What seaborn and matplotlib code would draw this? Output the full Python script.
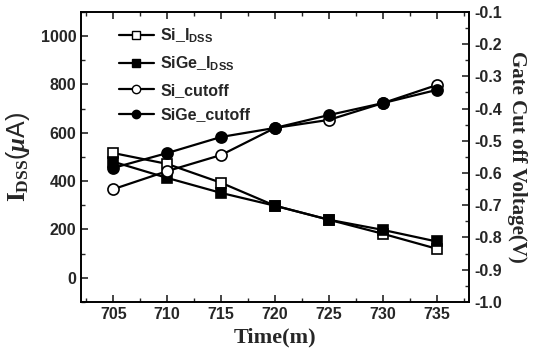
import matplotlib
matplotlib.use("Agg")
import matplotlib.pyplot as plt
import seaborn as sns
import pandas as pd
from matplotlib.ticker import MultipleLocator
from matplotlib.lines import Line2D

time = [705, 710, 715, 720, 725, 730, 735]
si_idss = [516, 471, 393, 298, 240, 182, 120]
sige_idss = [480, 413, 351, 298, 240, 198, 150]
si_cutoff = [-0.65, -0.594, -0.544, -0.46, -0.435, -0.383, -0.327]
sige_cutoff = [-0.584, -0.538, -0.488, -0.46, -0.42, -0.383, -0.342]

sns.set_style("ticks")
plt.rcParams['font.family'] = ['Liberation Sans', 'DejaVu Sans']
plt.rcParams['font.weight'] = 'bold'
plt.rcParams['mathtext.fontset'] = 'custom'
plt.rcParams['mathtext.rm'] = 'Liberation Serif:bold'
plt.rcParams['mathtext.it'] = 'Liberation Serif:italic:bold'
plt.rcParams['mathtext.sf'] = 'Liberation Sans:bold'
plt.rcParams['mathtext.bf'] = 'Liberation Serif:bold'

df = pd.DataFrame({'time': time, 'si_idss': si_idss, 'sige_idss': sige_idss,
                   'si_cutoff': si_cutoff, 'sige_cutoff': sige_cutoff})

fig = plt.figure(figsize=(5.33, 3.62), dpi=100)
ax = fig.add_axes([0.152, 0.166, 0.728, 0.801])
ax2 = ax.twinx()

lw = 1.6
ms = 7.5
sns.lineplot(data=df, x='time', y='si_idss', ax=ax, color='black', lw=lw,
             marker='s', markersize=ms, markerfacecolor='white', markeredgecolor='black', markeredgewidth=1.2)
sns.lineplot(data=df, x='time', y='sige_idss', ax=ax, color='black', lw=lw,
             marker='s', markersize=ms, markerfacecolor='black', markeredgecolor='black', markeredgewidth=1.2)
sns.lineplot(data=df, x='time', y='si_cutoff', ax=ax2, color='black', lw=lw,
             marker='o', markersize=ms+0.5, markerfacecolor='white', markeredgecolor='black', markeredgewidth=1.2)
sns.lineplot(data=df, x='time', y='sige_cutoff', ax=ax2, color='black', lw=lw,
             marker='o', markersize=ms+0.5, markerfacecolor='black', markeredgecolor='black', markeredgewidth=1.2)

ax.set_xlim(702, 738)
ax.set_ylim(-100, 1100)
ax2.set_ylim(-1.0, -0.1)

ax.xaxis.set_major_locator(MultipleLocator(5))
ax.xaxis.set_minor_locator(MultipleLocator(2.5))
ax.yaxis.set_major_locator(MultipleLocator(200))
ax.yaxis.set_minor_locator(MultipleLocator(100))
ax2.yaxis.set_minor_locator(MultipleLocator(0.05))
ax2.set_yticks([-1.0, -0.9, -0.8, -0.7, -0.6, -0.5, -0.4, -0.3, -0.2, -0.1])
ax2.set_yticklabels(['-1.0', '-0.9', '-0.8', '-0.7', '-0.6', '-0.5', '-0.4', '-0.3', '-0.2', '-0.1'])

ax.tick_params(axis='both', which='major', direction='in', length=5, width=1.2, labelsize=11.5, top=True)
ax.tick_params(axis='both', which='minor', direction='in', length=3, width=1.0, top=True)
ax.tick_params(axis='y', right=False, which='both')
ax2.tick_params(axis='y', which='major', direction='in', length=5, width=1.2, labelsize=11.5)
ax2.tick_params(axis='y', which='minor', direction='in', length=3, width=1.0)
for a in (ax, ax2):
    for s in a.spines.values():
        s.set_linewidth(1.2)
        s.set_visible(True)
        s.set_color('black')
    for lab in a.get_xticklabels() + a.get_yticklabels():
        lab.set_fontweight('bold')

ax.set_xlabel('Time(m)', family='Liberation Serif', fontweight='bold', fontsize=16, labelpad=4)
ax.set_ylabel(r'$\mathrm{I_{DSS}}$($\mathit{\mu}$A)', fontsize=18, labelpad=6)
ax2.set_ylabel('Gate Cut off Voltage(V)', family='Liberation Serif', fontweight='bold',
               fontsize=15, rotation=270, labelpad=18)

handles = [
    Line2D([], [], color='black', lw=lw, marker='s', markersize=6, markerfacecolor='white', markeredgecolor='black'),
    Line2D([], [], color='black', lw=lw, marker='s', markersize=6, markerfacecolor='black', markeredgecolor='black'),
    Line2D([], [], color='black', lw=lw, marker='o', markersize=6, markerfacecolor='white', markeredgecolor='black'),
    Line2D([], [], color='black', lw=lw, marker='o', markersize=6, markerfacecolor='black', markeredgecolor='black'),
]
labels = [r'Si_$\mathsf{I_{DSS}}$', r'SiGe_$\mathsf{I_{DSS}}$', 'Si_cutoff', 'SiGe_cutoff']
leg = ax2.legend(handles, labels, loc='upper left', bbox_to_anchor=(0.06, 1.0), frameon=False,
                 prop={'family': 'Liberation Sans', 'weight': 'bold', 'size': 11.5},
                 handlelength=2.2, handletextpad=0.4, labelspacing=0.6)

fig.savefig('out.png', dpi=100)
